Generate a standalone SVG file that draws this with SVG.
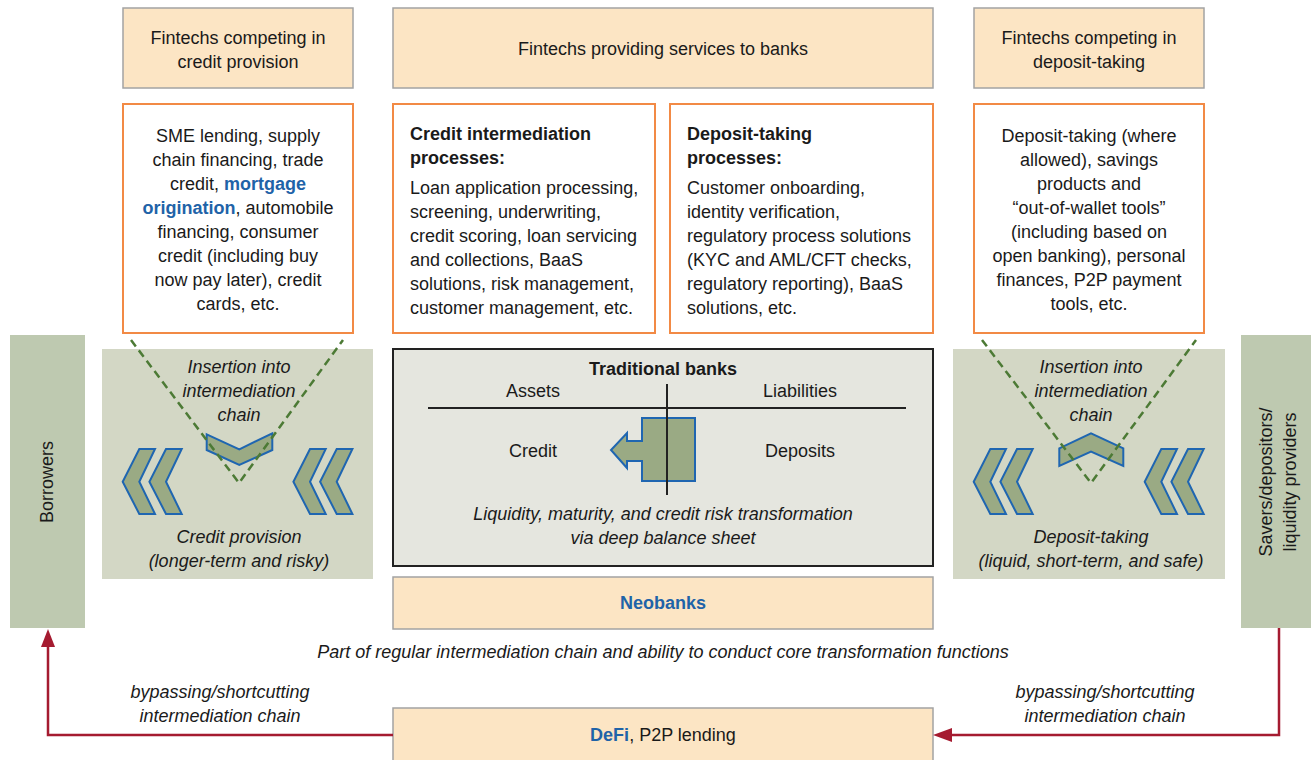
<svg xmlns="http://www.w3.org/2000/svg" width="1311" height="760" viewBox="0 0 1311 760">
<defs>
<style>
text{font-family:"Liberation Sans",Arial,sans-serif;font-size:18px;fill:#1a1a1a}
.c{text-anchor:middle}
.b{font-weight:bold}
.i{font-style:italic}
.blue{fill:#1f63a8;font-weight:bold}
.peach{fill:#fce5c4;stroke:#a3a3a3;stroke-width:1.5}
.orange{fill:#fff;stroke:#f28a45;stroke-width:2}
.area{fill:#d3d7c5}
.bar{fill:#bec9b0}
.chev{fill:#9aaa84;stroke:#1f66b1;stroke-width:2;stroke-linejoin:miter}
.dash{fill:none;stroke:#4c7a35;stroke-width:2.5;stroke-dasharray:8 5}
.red{fill:none;stroke:#a51b30;stroke-width:2.5}
</style>
</defs>
<rect width="1311" height="760" fill="#fff"/>

<g id="credit-area">
<rect class="area" x="102" y="349" width="271" height="230"/>
</g>
<g id="deposit-area">
<rect class="area" x="953" y="349" width="272" height="230"/>
</g>

<g id="borrowers">
<rect class="bar" x="10" y="335" width="75" height="293"/>
<text class="c" transform="translate(53,482) rotate(-90)">Borrowers</text>
</g>
<g id="savers">
<rect class="bar" x="1241" y="335" width="70" height="293"/>
<text class="c" transform="translate(1272,482) rotate(-90)">Savers/depositors/</text>
<text class="c" transform="translate(1296,482) rotate(-90)">liquidity providers</text>
</g>

<g id="fintech-credit">
<rect class="peach" x="123" y="8" width="230" height="80"/>
<text class="c" x="238" y="44">Fintechs competing in</text>
<text class="c" x="238" y="68">credit provision</text>
</g>
<g id="fintech-services">
<rect class="peach" x="393" y="8" width="540" height="80"/>
<text class="c" x="663" y="55">Fintechs providing services to banks</text>
</g>
<g id="fintech-deposit">
<rect class="peach" x="974" y="8" width="230" height="80"/>
<text class="c" x="1089" y="44">Fintechs competing in</text>
<text class="c" x="1089" y="68">deposit-taking</text>
</g>

<g id="credit-products">
<rect class="orange" x="123" y="104" width="230" height="229"/>
<text class="c" x="238" y="142">SME lending, supply</text>
<text class="c" x="238" y="166">chain financing, trade</text>
<text class="c" x="238" y="190">credit, <tspan class="blue">mortgage</tspan></text>
<text class="c" x="238" y="214"><tspan class="blue">origination</tspan>, automobile</text>
<text class="c" x="238" y="238">financing, consumer</text>
<text class="c" x="238" y="262">credit (including buy</text>
<text class="c" x="238" y="286">now pay later), credit</text>
<text class="c" x="238" y="310">cards, etc.</text>
</g>

<g id="credit-processes">
<rect class="orange" x="393" y="104" width="262" height="229"/>
<text class="b" x="410" y="139.5">Credit intermediation</text>
<text class="b" x="410" y="163.5">processes:</text>
<text x="410" y="193.5">Loan application processing,</text>
<text x="410" y="217.5">screening, underwriting,</text>
<text x="410" y="241.5">credit scoring, loan servicing</text>
<text x="410" y="265.5">and collections, BaaS</text>
<text x="410" y="289.5">solutions, risk management,</text>
<text x="410" y="313.5">customer management, etc.</text>
</g>

<g id="deposit-processes">
<rect class="orange" x="670" y="104" width="263" height="229"/>
<text class="b" x="687" y="139.5">Deposit-taking</text>
<text class="b" x="687" y="163.5">processes:</text>
<text x="687" y="193.5">Customer onboarding,</text>
<text x="687" y="217.5">identity verification,</text>
<text x="687" y="241.5">regulatory process solutions</text>
<text x="687" y="265.5">(KYC and AML/CFT checks,</text>
<text x="687" y="289.5">regulatory reporting), BaaS</text>
<text x="687" y="313.5">solutions, etc.</text>
</g>

<g id="deposit-products">
<rect class="orange" x="974" y="104" width="230" height="229"/>
<text class="c" x="1089" y="142">Deposit-taking (where</text>
<text class="c" x="1089" y="166">allowed), savings</text>
<text class="c" x="1089" y="190">products and</text>
<text class="c" x="1089" y="214">“out-of-wallet tools”</text>
<text class="c" x="1089" y="238">(including based on</text>
<text class="c" x="1089" y="262">open banking), personal</text>
<text class="c" x="1089" y="286">finances, P2P payment</text>
<text class="c" x="1089" y="310">tools, etc.</text>
</g>

<g id="credit-provision">
<text class="c i" x="239" y="373">Insertion into</text>
<text class="c i" x="239" y="397">intermediation</text>
<text class="c i" x="239" y="421">chain</text>
<polygon class="chev" points="206.7,434.3 239.3,449.3 272.3,433.3 272.3,450 239.3,465 206.7,450"/>
<polygon class="chev" points="139.3,449 155,449 139.3,481.7 155,514 139.3,514 122.7,481.7"/>
<polygon class="chev" points="166,449 181.7,449 166,481.7 181.7,514 166,514 149.4,481.7"/>
<polygon class="chev" points="310,449 325.7,449 310,481.7 325.7,514 310,514 293.4,481.7"/>
<polygon class="chev" points="336.7,449 352.4,449 336.7,481.7 352.4,514 336.7,514 320.1,481.7"/>
<text class="c i" x="239" y="543">Credit provision</text>
<text class="c i" x="239" y="567">(longer-term and risky)</text>
</g>

<g id="deposit-taking">
<text class="c i" x="1091" y="373">Insertion into</text>
<text class="c i" x="1091" y="397">intermediation</text>
<text class="c i" x="1091" y="421">chain</text>
<polygon class="chev" points="1059.3,448.3 1091,433.3 1123.3,448.3 1123.3,466 1091,451.7 1059.3,466"/>
<polygon class="chev" points="990.3,449 1006,449 990.3,481.7 1006,514 990.3,514 973.7,481.7"/>
<polygon class="chev" points="1017,449 1032.7,449 1017,481.7 1032.7,514 1017,514 1000.4,481.7"/>
<polygon class="chev" points="1161.3,449 1177,449 1161.3,481.7 1177,514 1161.3,514 1144.7,481.7"/>
<polygon class="chev" points="1188,449 1203.7,449 1188,481.7 1203.7,514 1188,514 1171.4,481.7"/>
<text class="c i" x="1091" y="543">Deposit-taking</text>
<text class="c i" x="1091" y="567">(liquid, short-term, and safe)</text>
</g>

<g id="traditional-banks">
<rect x="393" y="349" width="540" height="217" fill="#e5e6df" stroke="#222" stroke-width="2"/>
<text class="c b" x="663" y="375">Traditional banks</text>
<text class="c" x="533" y="397">Assets</text>
<text class="c" x="800" y="397">Liabilities</text>
<line x1="428" y1="408" x2="906" y2="408" stroke="#222" stroke-width="2"/>
<polygon class="chev" points="642,418 695,418 695,481 642,481 642,461 627,461 627,468 611,450 627,433 627,441 642,441"/>
<line x1="667" y1="384" x2="667" y2="495" stroke="#222" stroke-width="2"/>
<text class="c" x="533" y="457">Credit</text>
<text class="c" x="800" y="457">Deposits</text>
<text class="c i" x="663" y="520">Liquidity, maturity, and credit risk transformation</text>
<text class="c i" x="663" y="544">via deep balance sheet</text>
</g>

<g id="neobanks">
<rect class="peach" x="393" y="577" width="540" height="52"/>
<text class="c blue" x="663" y="609">Neobanks</text>
</g>
<text class="c i" x="663" y="658">Part of regular intermediation chain and ability to conduct core transformation functions</text>

<g id="defi">
<rect class="peach" x="393" y="708" width="540" height="60"/>
<text class="c" x="663" y="741"><tspan class="blue">DeFi</tspan>, P2P lending</text>
</g>

<g id="connectors">
<path class="dash" d="M131,340 L239,483 L343,340"/>
<path class="dash" d="M982,340 L1091,483 L1196,340"/>
<path class="red" d="M393,735 L48,735 L48,647"/>
<polygon points="41,647 55,647 48,629" fill="#a51b30"/>
<path class="red" d="M1279,628 L1279,735 L952,735"/>
<polygon points="952,728 952,742 933,735" fill="#a51b30"/>
<text class="c i" x="220" y="698">bypassing/shortcutting</text>
<text class="c i" x="220" y="722">intermediation chain</text>
<text class="c i" x="1105" y="698">bypassing/shortcutting</text>
<text class="c i" x="1105" y="722">intermediation chain</text>
</g>
</svg>
